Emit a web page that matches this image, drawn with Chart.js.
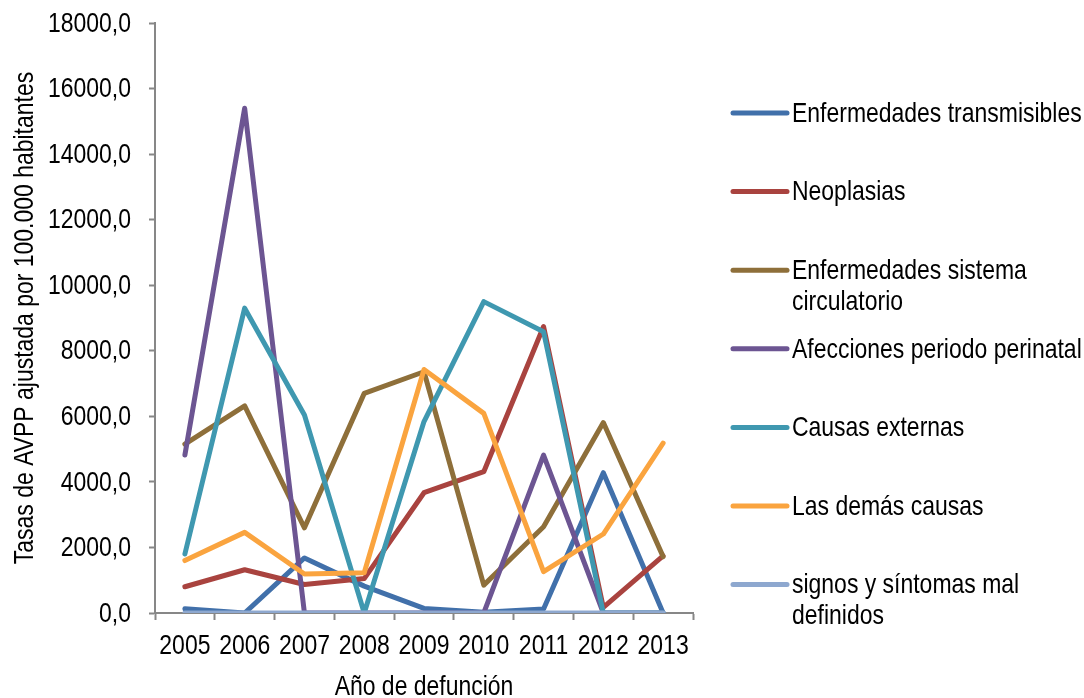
<!DOCTYPE html>
<html lang="es">
<head>
<meta charset="utf-8">
<title>Tasas de AVPP por grupo de causas</title>
<script src="https://cdn.jsdelivr.net/npm/chart.js@4/dist/chart.umd.min.js"></script>
<style>
  html, body { margin: 0; padding: 0; background: #ffffff; }
  #wrap { width: 1084px; height: 698px; }
</style>
</head>
<body>
<div id="wrap"><canvas id="chart" width="1084" height="698"></canvas></div>
<script>
// Años de defunción (eje de categorías)
const years = ['2005', '2006', '2007', '2008', '2009', '2010', '2011', '2012', '2013'];

// Tasas de AVPP ajustadas por 100.000 habitantes, por grupo de causas
const transmisibles = [130, 0, 1680, 820, 140, 20, 120, 4280, 0];
const neoplasias    = [800, 1320, 870, 1050, 3670, 4310, 8740, 170, 1740];
const circulatorio  = [5150, 6320, 2600, 6700, 7360, 850, 2630, 5810, 1720];
const perinatal     = [4820, 15400, 0, 0, 0, 0, 4820, 0, 0];
const externas      = [1800, 9300, 6040, 0, 5840, 9500, 8580, 0, 0];
const demasCausas   = [1600, 2460, 1190, 1230, 7430, 6090, 1260, 2410, 5180];
const malDefinidos  = [0, 0, 0, 0, 0, 0, 0, 0, 0];

// Etiquetas de la leyenda (las largas van en dos líneas)
const seriesLabels = [
  ['Enfermedades transmisibles'],
  ['Neoplasias'],
  ['Enfermedades sistema', 'circulatorio'],
  ['Afecciones periodo perinatal'],
  ['Causas externas'],
  ['Las demás causas'],
  ['signos y síntomas mal', 'definidos']
];

// Títulos de los ejes
const xTitle = 'Año de defunción';
const yTitle = 'Tasas de AVPP ajustada por 100.000 habitantes';

// Marcas de la escala vertical
const yMin = 0, yMax = 18000, yStep = 2000;

const seriesValues = [transmisibles, neoplasias, circulatorio, perinatal, externas, demasCausas, malDefinidos];
const seriesColors = ['#4170AA', '#A9433F', '#8E6F3A', '#6C5592', '#3F98B0', '#FAA43F', '#8EA8CF'];

const FONT = "'Liberation Sans', Arial, sans-serif";
const NARROW = 0.82;          // compresión horizontal, estilo "Arial Narrow"
const TEXT = '#000000';
const AXIS = '#878787';

const fmt = v => Number(v).toFixed(1).replace('.', ',');

// Texto estrecho: se dibuja con la fuente comprimida horizontalmente
function narrowText(ctx, text, x, y, align, rotate) {
  ctx.save();
  ctx.translate(x, y);
  if (rotate) ctx.rotate(-Math.PI / 2);
  ctx.scale(NARROW, 1);
  ctx.textAlign = align;
  ctx.fillText(text, 0, 0);
  ctx.restore();
}

// Rótulos de los ejes a partir de las marcas de cada escala
const axisText = {
  id: 'axisText',
  afterDraw(chart) {
    const ctx = chart.ctx;
    const xs = chart.scales.x, ys = chart.scales.y, area = chart.chartArea;
    ctx.save();
    ctx.fillStyle = TEXT;
    ctx.textBaseline = 'middle';
    ctx.font = '28px ' + FONT;
    ys.ticks.forEach(t => {
      narrowText(ctx, fmt(t.value), ys.right - 24, ys.getPixelForValue(t.value) + 1, 'right');
    });
    xs.ticks.forEach((t, i) => {
      narrowText(ctx, xs.getLabelForValue(t.value), xs.getPixelForTick(i), area.bottom + 33, 'center');
    });
    narrowText(ctx, xTitle, (area.left + area.right) / 2, area.bottom + 74, 'center');
    narrowText(ctx, yTitle, 25, (area.top + area.bottom) / 2, 'center', true);
    ctx.restore();
  }
};

// Leyenda a la derecha: muestra de línea + texto en una o dos líneas
const sideLegend = {
  id: 'sideLegend',
  afterDraw(chart) {
    const ctx = chart.ctx;
    const x0 = 733, x1 = 787, tx = 792;
    const firstY = 113, gap = 78.6, lineGap = 31;
    ctx.save();
    ctx.font = '28px ' + FONT;
    ctx.textBaseline = 'middle';
    chart.data.datasets.forEach((ds, i) => {
      const y = firstY + i * gap;
      ctx.strokeStyle = ds.borderColor;
      ctx.lineWidth = 5;
      ctx.lineCap = 'round';
      ctx.beginPath();
      ctx.moveTo(x0, y);
      ctx.lineTo(x1, y);
      ctx.stroke();
      ctx.fillStyle = TEXT;
      seriesLabels[i].forEach((line, k) => {
        narrowText(ctx, line, tx, y + 1 + k * lineGap, 'left');
      });
    });
    ctx.restore();
  }
};

const datasets = seriesValues.map((vals, i) => ({
  label: seriesLabels[i].join(' '),
  data: vals,
  borderColor: seriesColors[i],
  backgroundColor: seriesColors[i],
  borderWidth: 5,
  borderCapStyle: 'round',
  borderJoinStyle: 'round',
  pointRadius: 0,
  pointHoverRadius: 0,
  tension: 0,
  fill: false,
  order: seriesValues.length - i
}));

new Chart(document.getElementById('chart'), {
  type: 'line',
  data: { labels: years, datasets },
  options: {
    responsive: false,
    animation: false,
    devicePixelRatio: 1,
    layout: { padding: { left: 0, top: 23, right: 391, bottom: 0 } },
    plugins: {
      legend: { display: false },
      tooltip: { enabled: false }
    },
    scales: {
      x: {
        type: 'category',
        offset: true,
        grid: {
          offset: true,
          drawOnChartArea: false,
          drawTicks: true,
          tickLength: 7,
          tickWidth: 2,
          tickColor: AXIS
        },
        border: { display: true, color: AXIS, width: 2 },
        ticks: { display: false, autoSkip: false, maxRotation: 0 },
        afterFit(scale) { scale.height = 85; }
      },
      y: {
        min: yMin,
        max: yMax,
        grid: {
          drawOnChartArea: false,
          drawTicks: true,
          tickLength: 6,
          tickWidth: 2,
          tickColor: AXIS
        },
        border: { display: true, color: AXIS, width: 2 },
        ticks: { display: false, stepSize: yStep, callback: fmt },
        afterFit(scale) { scale.width = 155; }
      }
    }
  },
  plugins: [axisText, sideLegend]
});
</script>
</body>
</html>
